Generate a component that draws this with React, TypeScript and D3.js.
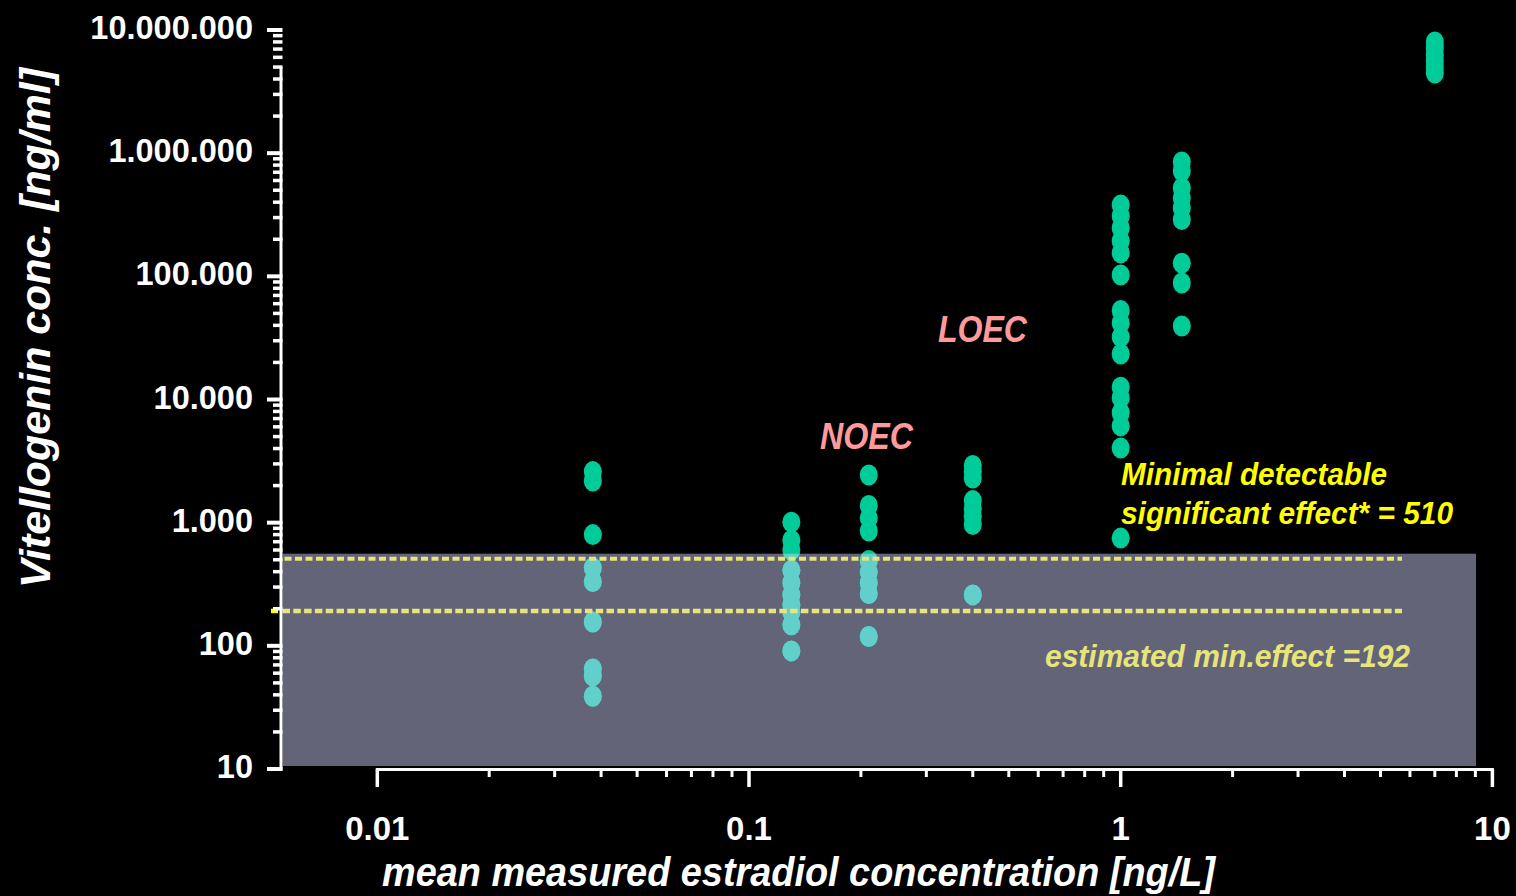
import React from 'react';
import * as d3 from 'd3';

const W = 1516;
const H = 896;

// Mean measured estradiol concentration of each exposure group [ng/L]
const concentrations = [0.038, 0.13, 0.21, 0.4, 1.0, 1.46, 7.0];

// Individual vitellogenin concentrations per exposure group [ng/ml]
const vtgGroup1 = [2600, 2180, 800, 430, 333, 156, 65, 57, 39];
const vtgGroup2 = [1010, 720, 600, 410, 325, 260, 215, 188, 148, 91];
const vtgGroup3 = [2440, 1380, 1090, 855, 493, 397, 324, 266, 119];
const vtgGroup4 = [2910, 2600, 2300, 1510, 1290, 1130, 965, 259];
const vtgGroup5 = [380000, 309000, 247000, 194000, 155000, 102500, 52800, 41800, 32200, 23400, 12600, 10300, 7800, 6100, 4040, 750];
const vtgGroup6 = [848000, 716000, 521000, 432000, 359000, 289000, 128000, 88300, 39500];
const vtgGroup7 = [7990000, 7140000, 6270000, 5600000, 5010000, 4480000];

const groups = [vtgGroup1, vtgGroup2, vtgGroup3, vtgGroup4, vtgGroup5, vtgGroup6, vtgGroup7];

// Effect thresholds [ng/ml]
const minDetectableEffect = 510;
const estimatedMinEffect = 192;
const shadedUpper = 560;

// Axis ticks
const xTicks = [0.01, 0.1, 1, 10];
const xTickLabels = ['0.01', '0.1', '1', '10'];
const yTicks = [10, 100, 1000, 10000, 100000, 1000000, 10000000];

const FONT = '"Liberation Sans", Arial, Helvetica, sans-serif';
const GREEN = '#00cc99';
const GREEN_SHADED = '#63cfca';
const SHADE = '#646479';
const DASH = '#e6e47a';
const PINK = '#ff9a9a';
const YELLOW = '#ffff00';

const x = d3.scaleLog().domain([0.01, 10]).range([377.3, 1492.4]);
const y = d3.scaleLog().domain([10, 1e7]).range([769, 30]);

const dotFmt = d3.formatLocale({ decimal: ',', thousands: '.', grouping: [3], currency: ['', ''] }).format(',d');

const Y_AXIS_X = 281;
const X_AXIS_Y = 769.5;
const PLOT_LEFT = 282.5;
const SHADE_RIGHT = 1476;
const DASH_RIGHT = 1402;

function minorTicks(lo: number, hi: number): number[] {
  const out: number[] = [];
  for (let d = lo; d < hi; d *= 10) {
    for (let k = 2; k <= 9; k++) out.push(d * k);
  }
  return out;
}

const points = groups.flatMap((vals, i) => vals.map((v) => ({ c: concentrations[i], v })));

export default function App() {
  const yMinor = minorTicks(10, 1e7);
  const xMinor = minorTicks(0.01, 10);
  const shadeTopY = y(shadedUpper);

  const dots = (fill: string) =>
    points.map((p, i) => (
      <ellipse key={i} cx={x(p.c)} cy={y(p.v)} rx={9} ry={10.5} fill={fill} />
    ));

  return (
    <svg
      width={W}
      height={H}
      style={{ position: 'absolute', left: 0, top: 0, background: '#000' }}
      fontFamily={FONT}
    >
      <defs>
        <clipPath id="shadeClip">
          <rect x={PLOT_LEFT} y={shadeTopY} width={SHADE_RIGHT - PLOT_LEFT} height={766 - shadeTopY} />
        </clipPath>
      </defs>
      <rect x={0} y={0} width={W} height={H} fill="#000" />

      {/* region below the minimal detectable effect */}
      <rect x={PLOT_LEFT} y={shadeTopY} width={SHADE_RIGHT - PLOT_LEFT} height={766 - shadeTopY} fill={SHADE} />

      {/* individual fish */}
      <g>{dots(GREEN)}</g>
      <g clipPath="url(#shadeClip)">{dots(GREEN_SHADED)}</g>

      {/* threshold lines */}
      <line x1={PLOT_LEFT + 2} x2={DASH_RIGHT} y1={y(minDetectableEffect)} y2={y(minDetectableEffect)}
        stroke={DASH} strokeWidth={4} strokeDasharray="7 3.5" />
      <line x1={PLOT_LEFT} x2={DASH_RIGHT} y1={y(estimatedMinEffect)} y2={y(estimatedMinEffect)}
        stroke={DASH} strokeWidth={4.5} strokeDasharray="7.5 3.3" />
      <line x1={271} x2={278} y1={y(estimatedMinEffect)} y2={y(estimatedMinEffect)} stroke={YELLOW} strokeWidth={4.5} />

      {/* y axis */}
      <line x1={Y_AXIS_X} x2={Y_AXIS_X} y1={y(5e6)} y2={770.5} stroke="#fff" strokeWidth={3} />
      {yTicks.map((t) => (
        <g key={t}>
          <line x1={267} x2={Y_AXIS_X + 1.5} y1={y(t)} y2={y(t)} stroke="#fff" strokeWidth={4} />
          <text x={253} y={y(t) + 9} textAnchor="end" fill="#fff" fontSize={32.5} fontWeight="bold">
            {dotFmt(t)}
          </text>
        </g>
      ))}
      {yMinor.map((t) => (
        <line key={t} x1={273} x2={Y_AXIS_X + 1.5} y1={y(t)} y2={y(t)} stroke="#fff" strokeWidth={3.5} />
      ))}

      {/* x axis */}
      <line x1={x(0.01) - 1.5} x2={x(10) + 1.5} y1={X_AXIS_Y} y2={X_AXIS_Y} stroke="#fff" strokeWidth={3} />
      {xTicks.map((t, i) => (
        <g key={t}>
          <line x1={x(t)} x2={x(t)} y1={X_AXIS_Y} y2={787} stroke="#fff" strokeWidth={3.5} />
          <text x={x(t)} y={840} textAnchor="middle" fill="#fff" fontSize={33} fontWeight="bold">
            {xTickLabels[i]}
          </text>
        </g>
      ))}
      {xMinor.map((t) => (
        <line key={t} x1={x(t)} x2={x(t)} y1={X_AXIS_Y} y2={777} stroke="#fff" strokeWidth={3} />
      ))}

      {/* axis titles */}
      <text x={382} y={886} fill="#fff" fontSize={40} fontWeight="bold" fontStyle="italic"
        textLength={833} lengthAdjust="spacingAndGlyphs">
        mean measured estradiol concentration [ng/L]
      </text>
      <text transform="translate(50,328) rotate(-90)" textAnchor="middle" fill="#fff" fontSize={42}
        fontWeight="bold" fontStyle="italic" textLength={520} lengthAdjust="spacingAndGlyphs">
        Vitellogenin conc. [ng/ml]
      </text>

      {/* annotations */}
      <text x={820} y={449} fill={PINK} fontSize={37} fontWeight="bold" fontStyle="italic"
        textLength={93} lengthAdjust="spacingAndGlyphs">NOEC</text>
      <text x={938} y={342} fill={PINK} fontSize={37} fontWeight="bold" fontStyle="italic"
        textLength={89} lengthAdjust="spacingAndGlyphs">LOEC</text>
      <text x={1121} y={485} fill={YELLOW} fontSize={32} fontWeight="bold" fontStyle="italic"
        textLength={266} lengthAdjust="spacingAndGlyphs">Minimal detectable</text>
      <text x={1121} y={524} fill={YELLOW} fontSize={32} fontWeight="bold" fontStyle="italic"
        textLength={332} lengthAdjust="spacingAndGlyphs">{`significant effect* = ${minDetectableEffect}`}</text>
      <text x={1045} y={667} fill={DASH} fontSize={31} fontWeight="bold" fontStyle="italic"
        textLength={365} lengthAdjust="spacingAndGlyphs">{`estimated min.effect =${estimatedMinEffect}`}</text>
    </svg>
  );
}
